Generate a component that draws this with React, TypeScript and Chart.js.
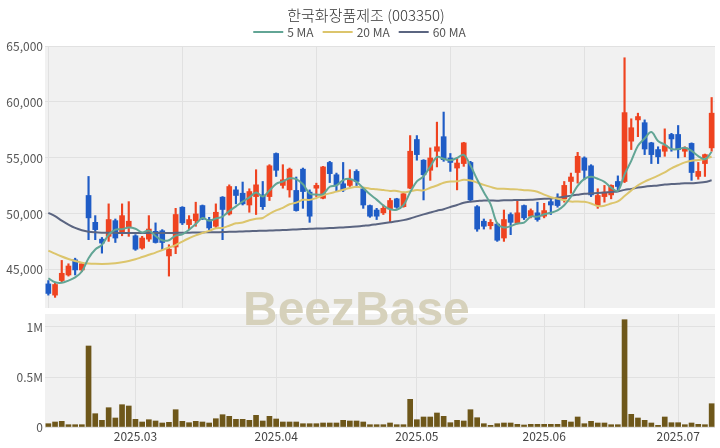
import React, { useEffect, useRef } from 'react';
import { Chart, registerables } from 'chart.js';

Chart.register(...registerables);

const TITLE = '한국화장품제조 (003350)';

const opens = [
  43750, 42750, 44050, 44550, 45900, 45000, 51650, 49250, 47750, 48000,
  49400, 48300, 48800, 48050, 46950, 47750, 48450, 48500, 46250, 47050,
  50600, 49050, 49400, 50750, 49500, 48900, 51500, 50000, 52150, 51850,
  50800, 51550, 51700, 51550, 55400, 52550, 52150, 52100, 54000, 51950,
  52300, 51400, 54600, 53500, 52700, 52550, 53800, 52250, 50750, 50350,
  50100, 50450, 51350, 50650, 52300, 56650, 54800, 53900, 55600, 56900,
  55000, 54100, 54500, 54600, 50650, 49350, 48950, 49100, 47850, 49950,
  49200, 50750, 49800, 50100, 49800, 51100, 51350, 51350, 52900, 53700,
  55000, 54300, 50750, 51550, 51700, 52900, 52900, 56500, 58400, 58150,
  56350, 55750, 55600, 57100, 57100, 55600, 56300, 53350, 54500, 55900,
];
const highs = [
  44050, 43850, 45850, 45550, 46050, 45600, 53350, 49850, 47900, 50900,
  49550, 50900, 51100, 48150, 48000, 49850, 49200, 48600, 47250, 50500,
  50650, 49850, 51050, 50800, 49700, 50900, 51550, 52600, 52450, 52850,
  52250, 53950, 52900, 54400, 55450, 54400, 54100, 53300, 54100, 52150,
  52750, 54250, 54700, 53650, 54600, 53950, 53950, 52300, 50800, 50500,
  50800, 51400, 51400, 51950, 57000, 57000, 54850, 55900, 58200, 59100,
  55400, 55000, 56400, 54700, 50750, 49550, 49500, 49200, 50350, 50100,
  51200, 50800, 50450, 51050, 50950, 51350, 51800, 52900, 53650, 55500,
  55100, 54400, 52250, 52550, 52600, 53400, 63950, 58500, 59000, 58400,
  56400, 56000, 57600, 57200, 57900, 56000, 56350, 54600, 55350, 60400,
];
const lows = [
  42750, 42550, 43950, 44450, 44550, 44850, 47700, 47700, 46500, 47550,
  47450, 48050, 48000, 46750, 46850, 47550, 47400, 46800, 44450, 46450,
  49050, 48650, 48900, 49500, 48600, 48750, 47700, 49900, 50900, 50800,
  50150, 49950, 50400, 51200, 53350, 52300, 51500, 50250, 50500, 49250,
  51550, 51350, 52800, 52000, 52000, 52450, 52400, 50500, 49700, 49500,
  49950, 49250, 50500, 50600, 52250, 54800, 51250, 53000, 54200, 54700,
  53800, 52150, 54250, 51100, 48450, 48650, 48650, 47550, 47550, 48150,
  49100, 49500, 49650, 49350, 49650, 49950, 50600, 51050, 51850, 52750,
  53050, 51550, 50500, 51050, 51350, 52000, 52800, 55750, 56900, 55300,
  54500, 54500, 55150, 55600, 55000, 55100, 53000, 53100, 53350, 55600,
];
const closes = [
  42900, 43700, 44700, 45350, 45000, 45550, 49650, 48600, 47400, 49500,
  47850, 49850, 49350, 46850, 47850, 48650, 47450, 47450, 46850, 49950,
  49200, 49500, 50000, 49550, 48750, 50150, 50400, 52450, 51650, 50900,
  52000, 52600, 50650, 54300, 53900, 53050, 54000, 50300, 52000, 49800,
  52550, 54200, 53600, 52600, 52150, 53100, 52900, 50800, 49800, 49800,
  50500, 51200, 50600, 51800, 55600, 55300, 53500, 55000, 56000, 54850,
  54600, 54550, 56350, 51250, 48650, 48900, 49250, 47650, 49500, 49250,
  50100, 49650, 50300, 49500, 50300, 50800, 50750, 52550, 53300, 55150,
  53900, 51700, 51650, 51950, 52550, 52450, 59050, 57700, 58700, 55800,
  55300, 55100, 56100, 56700, 55750, 55900, 53700, 53800, 55300, 59000,
];
const volumes = [
  33000, 50000, 57000, 23000, 23000, 23000, 810000, 133000, 67000, 193000,
  90000, 223000, 210000, 77000, 50000, 73000, 60000, 40000, 47000, 173000,
  57000, 43000, 57000, 50000, 40000, 83000, 123000, 107000, 77000, 77000,
  67000, 117000, 60000, 107000, 80000, 50000, 50000, 50000, 33000, 33000,
  33000, 40000, 40000, 40000, 67000, 60000, 60000, 50000, 23000, 23000,
  23000, 40000, 23000, 23000, 277000, 73000, 100000, 100000, 140000, 107000,
  43000, 67000, 60000, 173000, 93000, 33000, 17000, 33000, 40000, 40000,
  27000, 20000, 27000, 27000, 27000, 27000, 27000, 67000, 50000, 100000,
  33000, 57000, 40000, 40000, 23000, 23000, 1073000, 127000, 90000, 67000,
  40000, 17000, 100000, 43000, 43000, 23000, 40000, 27000, 23000, 233000,
];

const ma5Early = [44250, 43900, 43850, 44050];
const ma20Early = [
  46730, 46450, 46200, 45980, 45800, 45650, 45580, 45550, 45540, 45550,
  45600, 45680, 45800, 45950, 46150, 46350, 46550, 46780, 47000,
];
const ma60Early = [
  50100, 49800, 49400, 49050, 48750, 48550, 48420, 48360, 48330, 48320,
  48310, 48300, 48300, 48300, 48300, 48300, 48300, 48300, 48300, 48310,
  48320, 48330, 48340, 48350, 48360, 48370, 48380, 48400, 48420, 48440,
  48460, 48480, 48500, 48520, 48540, 48560, 48590, 48620, 48650, 48670,
  48690, 48710, 48740, 48770, 48800, 48830, 48880, 48940, 49000, 49080,
  49160, 49250, 49340, 49450, 49600, 49780, 49960, 50130, 50290,
];

const monthTickIndex = [13, 34, 55, 74, 94];
const monthTickLabel = ['2025.03', '2025.04', '2025.05', '2025.06', '2025.07'];
const priceGridIndex = [0, 20, 40, 60, 80];
const priceTicks = [45000, 50000, 55000, 60000, 65000];
const volumeTicks = [0, 500000, 1000000];
const volumeTickLabel = ['0', '0.5M', '1M'];
const maLabels = ['5 MA', '20 MA', '60 MA'];
const maColors = ['#62a595', '#dcc56c', '#5b6581'];

const UP = '#ef4320';
const DOWN = '#1f5cc6';
const VOL = '#6e571a';
const PLOT_BG = '#f1f1f1';
const GRID = '#e1e1e1';
const FONT = '"Noto Sans CJK KR", "Noto Sans", sans-serif';

const categories = closes.map((_, i) => String(i));

function movingAverage(values: number[], n: number, early: number[]): number[] {
  return values.map((_, i) => {
    if (i < n - 1) return early[i];
    let s = 0;
    for (let k = i - n + 1; k <= i; k++) s += values[k];
    return s / n;
  });
}

const noScalePadding = (s: any) => {
  s.paddingTop = 0;
  s.paddingBottom = 0;
  s.paddingLeft = 0;
  s.paddingRight = 0;
};

const bgPlugin = {
  id: 'plotBg',
  beforeDraw(chart: any) {
    const { ctx, chartArea } = chart;
    ctx.save();
    ctx.fillStyle = PLOT_BG;
    ctx.fillRect(chartArea.left, chartArea.top, chartArea.right - chartArea.left, chartArea.bottom - chartArea.top);
    ctx.restore();
  },
};

const headerPlugin = {
  id: 'header',
  afterDraw(chart: any) {
    const ctx = chart.ctx;
    ctx.save();
    ctx.fillStyle = '#333333';
    ctx.textAlign = 'center';
    ctx.textBaseline = 'middle';
    ctx.font = `300 15px ${FONT}`;
    ctx.fillText(TITLE, 366, 15);
    ctx.font = `12px ${FONT}`;
    const sw = 30;
    const gapT = 4;
    const gapI = 9;
    const widths = maLabels.map((t) => ctx.measureText(t).width);
    const total = widths.reduce((a, w) => a + sw + gapT + w, 0) + gapI * (maLabels.length - 1);
    let x = 359.5 - total / 2;
    ctx.textAlign = 'left';
    maLabels.forEach((t, i) => {
      ctx.strokeStyle = maColors[i];
      ctx.lineWidth = 2;
      ctx.beginPath();
      ctx.moveTo(x, 32);
      ctx.lineTo(x + sw, 32);
      ctx.stroke();
      ctx.fillStyle = '#555555';
      ctx.fillText(t, x + sw + gapT, 32.5);
      x += sw + gapT + widths[i] + gapI;
    });
    ctx.restore();
  },
};

export default function App() {
  const priceRef = useRef<HTMLCanvasElement>(null);
  const volRef = useRef<HTMLCanvasElement>(null);

  useEffect(() => {
    const ma5 = movingAverage(closes, 5, ma5Early);
    const ma20 = movingAverage(closes, 20, ma20Early);
    const ma60 = movingAverage(closes, 60, ma60Early);
    const candleColors = closes.map((c, i) => (c >= opens[i] ? UP : DOWN));

    const lineDs = (label: string, data: number[], color: string) => ({
      type: 'line' as const,
      label,
      data,
      borderColor: color,
      backgroundColor: color,
      borderWidth: 2,
      pointRadius: 0,
      tension: 0.35,
      order: 0,
    });

    const priceChart = new Chart(priceRef.current as HTMLCanvasElement, {
      type: 'bar',
      data: {
        labels: categories,
        datasets: [
          lineDs(maLabels[0], ma5, maColors[0]),
          lineDs(maLabels[1], ma20, maColors[1]),
          lineDs(maLabels[2], ma60, maColors[2]),
          {
            type: 'bar',
            label: 'body',
            data: opens.map((o, i) => [o, closes[i]]),
            backgroundColor: candleColors,
            barThickness: 5,
            grouped: false,
            minBarLength: 1,
            order: 1,
          } as any,
          {
            type: 'bar',
            label: 'wick',
            data: lows.map((l, i) => [l, highs[i]]),
            backgroundColor: candleColors,
            barThickness: 1.5,
            grouped: false,
            order: 2,
          } as any,
        ],
      },
      options: {
        responsive: false,
        maintainAspectRatio: false,
        animation: false,
        devicePixelRatio: 1,
        layout: { padding: { left: 0, right: 5, top: 46, bottom: 4 } },
        plugins: {
          legend: { display: false },
          title: { display: false },
          tooltip: { enabled: false },
        },
        scales: {
          x: {
            type: 'category',
            offset: true,
            grid: { offset: false, color: GRID, drawTicks: false },
            border: { display: false },
            ticks: { display: false, autoSkip: false },
            afterBuildTicks: (s: any) => {
              s.ticks = priceGridIndex.map((v) => ({ value: v }));
            },
            afterFit: (s: any) => {
              s.height = 0;
              noScalePadding(s);
            },
          },
          y: {
            min: 41600,
            max: 65000,
            afterBuildTicks: (s: any) => {
              s.ticks = priceTicks.map((v) => ({ value: v }));
            },
            afterFit: (s: any) => {
              s.width = 45;
              noScalePadding(s);
            },
            grid: { color: GRID, drawTicks: false },
            border: { display: false },
            ticks: {
              padding: 2,
              color: '#555555',
              font: { size: 12, family: FONT },
              callback: (v: any) => Number(v).toLocaleString('en-US'),
            },
          },
        },
      },
      plugins: [bgPlugin, headerPlugin],
    });

    const volChart = new Chart(volRef.current as HTMLCanvasElement, {
      type: 'bar',
      data: {
        labels: categories,
        datasets: [
          {
            label: 'volume',
            data: volumes,
            backgroundColor: VOL,
            barThickness: 5,
          },
        ],
      },
      options: {
        responsive: false,
        maintainAspectRatio: false,
        animation: false,
        devicePixelRatio: 1,
        layout: { padding: { left: 0, right: 5, top: 4, bottom: 0 } },
        plugins: {
          legend: { display: false },
          title: { display: false },
          tooltip: { enabled: false },
        },
        scales: {
          x: {
            type: 'category',
            offset: true,
            grid: { offset: false, color: GRID, drawTicks: false },
            border: { display: false },
            ticks: {
              autoSkip: false,
              maxRotation: 0,
              padding: 2,
              color: '#444444',
              font: { size: 12, family: FONT },
              callback: (v: any) => {
                const k = monthTickIndex.indexOf(Number(v));
                return k >= 0 ? monthTickLabel[k] : '';
              },
            },
            afterBuildTicks: (s: any) => {
              s.ticks = monthTickIndex.map((v) => ({ value: v }));
            },
            afterFit: (s: any) => {
              s.height = 21;
              noScalePadding(s);
            },
          },
          y: {
            min: 0,
            max: 1130000,
            afterBuildTicks: (s: any) => {
              s.ticks = volumeTicks.map((v) => ({ value: v }));
            },
            afterFit: (s: any) => {
              s.width = 45;
              noScalePadding(s);
            },
            grid: { color: GRID, drawTicks: false },
            border: { display: false },
            ticks: {
              padding: 2,
              color: '#555555',
              font: { size: 12, family: FONT },
              callback: (v: any) => {
                const k = volumeTicks.indexOf(Number(v));
                return k >= 0 ? volumeTickLabel[k] : '';
              },
            },
          },
        },
      },
      plugins: [bgPlugin],
    });

    return () => {
      priceChart.destroy();
      volChart.destroy();
    };
  }, []);

  return (
    <div style={{ position: 'fixed', left: 0, top: 0, width: 720, height: 448, background: '#ffffff', overflow: 'hidden' }}>
      <canvas ref={priceRef} width={720} height={312} style={{ position: 'absolute', left: 0, top: 0, width: 720, height: 312 }} />
      <canvas ref={volRef} width={720} height={138} style={{ position: 'absolute', left: 0, top: 310, width: 720, height: 138 }} />
      <div
        style={{
          position: 'absolute',
          left: 243,
          top: 285,
          fontFamily: '"Liberation Sans", Arial, sans-serif',
          fontWeight: 700,
          fontSize: 48,
          lineHeight: '48px',
          color: '#d6d1bb',
          pointerEvents: 'none',
          whiteSpace: 'nowrap',
        }}
      >
        BeezBase
      </div>
    </div>
  );
}
